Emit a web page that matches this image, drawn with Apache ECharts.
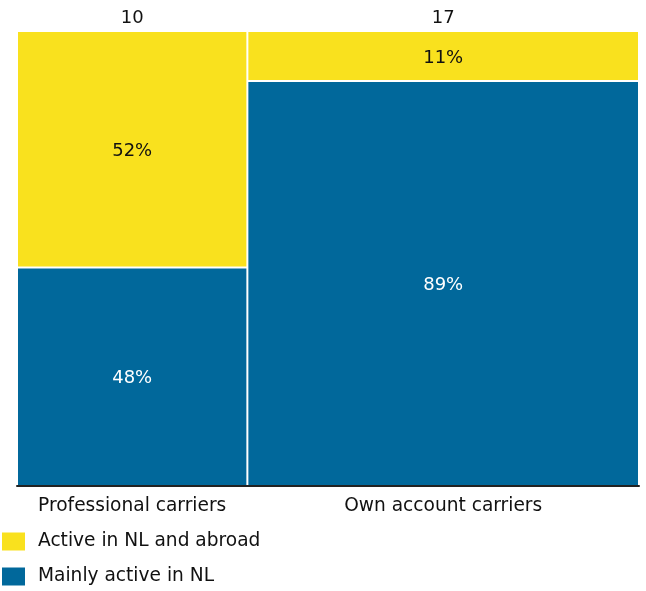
<!DOCTYPE html>
<html>
<head>
<meta charset="utf-8">
<script src="https://cdn.jsdelivr.net/npm/echarts@6/dist/echarts.min.js"></script>
<style>
  html, body { margin: 0; padding: 0; background: #fff; }
  #chart { width: 646px; height: 591px; }
</style>
</head>
<body>
<div id="chart"></div>
<script>
// Carriers by type: column width = number of carriers, split by area of activity
const categories = ['Professional carriers', 'Own account carriers'];
const totals = [10, 17];
const mainlyNL = [48, 89];
const abroad = [52, 11];
const seriesNames = ['Active in NL and abroad', 'Mainly active in NL'];
const colors = { abroad: '#f9e11e', mainly: '#01689b' };

// column boundaries along the x axis (cumulative totals)
const starts = [];
let acc = 0;
totals.forEach(t => { starts.push(acc); acc += t; });
const xMax = acc;

const mainlyData = categories.map((c, i) => [starts[i], starts[i] + totals[i], 0, mainlyNL[i], mainlyNL[i]]);
const abroadData = categories.map((c, i) => [starts[i], starts[i] + totals[i], mainlyNL[i], mainlyNL[i] + abroad[i], abroad[i]]);
const columnData = categories.map((c, i) => [starts[i], starts[i] + totals[i], totals[i], c]);

const font = '"DejaVu Sans", Verdana, sans-serif';

function cellRenderer(textColor) {
  return function (params, api) {
    const p0 = api.coord([api.value(0), api.value(3)]);
    const p1 = api.coord([api.value(1), api.value(2)]);
    const x = p0[0], y = p0[1], w = p1[0] - p0[0], h = p1[1] - p0[1];
    return {
      type: 'group',
      children: [
        {
          type: 'rect',
          shape: { x: x + 1, y: y + 1, width: w - 2, height: h - 2 },
          style: { fill: api.visual('color') }
        },
        {
          type: 'text',
          x: x + w / 2,
          y: y + h / 2 + 2,
          style: {
            text: api.value(4) + '%',
            fill: textColor,
            font: '18px ' + font,
            align: 'center',
            verticalAlign: 'middle'
          }
        }
      ]
    };
  };
}

const chart = echarts.init(document.getElementById('chart'), null, { renderer: 'canvas' });
chart.setOption({
  animation: false,
  grid: { left: 17, right: 7, top: 31, bottom: 105 },
  xAxis: {
    type: 'value', min: 0, max: xMax,
    axisLine: { show: true, lineStyle: { color: '#222', width: 2 } },
    axisTick: { show: false }, axisLabel: { show: false }, splitLine: { show: false }
  },
  yAxis: {
    type: 'value', min: 0, max: 100,
    axisLine: { show: false }, axisTick: { show: false },
    axisLabel: { show: false }, splitLine: { show: false }
  },
  legend: {
    data: seriesNames,
    orient: 'vertical',
    left: 2, top: 532,
    padding: 0,
    itemWidth: 23, itemHeight: 18, itemGap: 16,
    icon: 'rect',
    textStyle: { fontFamily: font, fontSize: 18.6, color: '#111', padding: [0, 0, 0, 8] }
  },
  series: [
    {
      name: seriesNames[1], type: 'custom', color: colors.mainly,
      encode: { x: [0, 1], y: [2, 3] },
      renderItem: cellRenderer('#ffffff'),
      data: mainlyData
    },
    {
      name: seriesNames[0], type: 'custom', color: colors.abroad,
      encode: { x: [0, 1], y: [2, 3] },
      renderItem: cellRenderer('#111111'),
      data: abroadData
    },
    {
      name: 'columns', type: 'custom', silent: true,
      encode: { x: [0, 1] },
      renderItem: function (params, api) {
        const mid = (api.value(0) + api.value(1)) / 2;
        const top = api.coord([mid, 100]);
        const bottom = api.coord([mid, 0]);
        return {
          type: 'group',
          children: [
            {
              type: 'text', x: top[0], y: top[1] - 13,
              style: { text: String(api.value(2)), fill: '#111', font: '18px ' + font, align: 'center', verticalAlign: 'middle' }
            },
            {
              type: 'text', x: bottom[0], y: bottom[1] + 20,
              style: { text: columnData[params.dataIndex][3], fill: '#111', font: '18.6px ' + font, align: 'center', verticalAlign: 'middle' }
            }
          ]
        };
      },
      data: columnData
    }
  ]
});
</script>
</body>
</html>
